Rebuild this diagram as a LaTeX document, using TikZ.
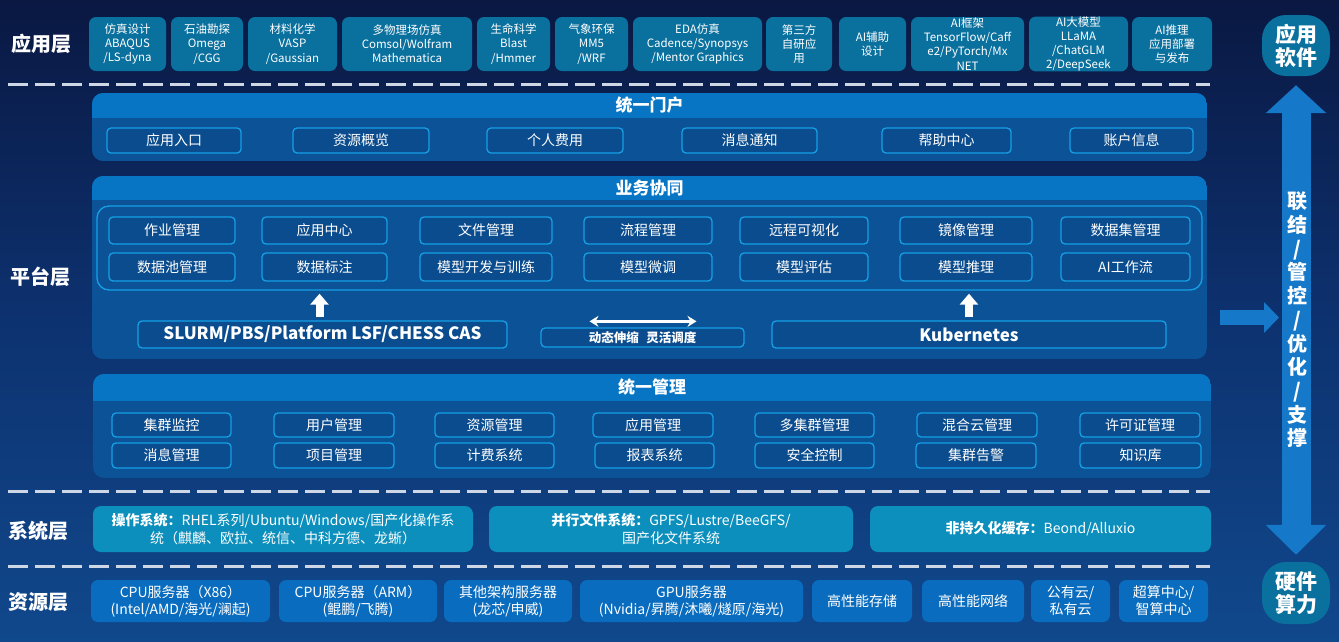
\documentclass[tikz,border=0pt]{standalone}
\usepackage{fontspec}
\setmainfont{Noto Sans CJK SC}
\usetikzlibrary{arrows.meta,calc}
\definecolor{bgtop}{RGB}{10,24,66}
\definecolor{bgmid}{RGB}{13,50,112}
\definecolor{bgbot}{RGB}{16,72,140}
\definecolor{appcol}{RGB}{10,112,158}
\definecolor{hdr}{RGB}{8,117,196}
\definecolor{pbody}{RGB}{11,82,150}
\definecolor{itemln}{RGB}{22,160,230}
\definecolor{itemfill}{RGB}{10,76,142}
\definecolor{syscol}{RGB}{12,143,188}
\definecolor{rescol}{RGB}{10,108,190}
\definecolor{arrowblue}{RGB}{22,120,200}
\definecolor{dashc}{RGB}{205,215,230}
\tikzset{
  base/.style={inner sep=0pt, align=center, text=white},
  appbox/.style={base, fill=appcol, rounded corners=7pt, font=\fontsize{11.5}{14.2}\selectfont},
  pill/.style={base, fill=appcol, rounded corners=24pt, font=\bfseries\fontsize{21}{23}\selectfont},
  item/.style={base, draw=itemln, line width=1.3pt, fill=itemfill, rounded corners=4pt, font=\fontsize{14}{16}\selectfont},
  frame/.style={base, draw=itemln, line width=1.3pt, rounded corners=12pt},
  bigitem/.style={item, font=\bfseries\fontsize{17}{20}\selectfont},
  smallitem/.style={item, font=\bfseries\fontsize{12.5}{14}\selectfont},
  sysbox/.style={base, fill=syscol, rounded corners=8pt, font=\fontsize{14}{17.5}\selectfont},
  resbox/.style={base, fill=rescol, rounded corners=7pt, font=\fontsize{14}{17}\selectfont},
  paneltitle/.style={base, font=\bfseries\fontsize{17}{20}\selectfont},
  layerlabel/.style={base, font=\bfseries\fontsize{20}{22}\selectfont},
  dashline/.style={draw=dashc, line width=3pt, dash pattern=on 20pt off 7pt},
  panelnode/.style={inner sep=0pt},
}
\newcommand\mybox[7]{\node[#1,minimum width={#5-#3},minimum height={#6-#4}] (#2) at ({(#3+#5)/2},{(#4+#6)/2}) {#7};}
\newcommand\mypanel[7]{%
  \begin{scope}
    \clip[rounded corners=11pt] (#2,#3) rectangle (#4,#5);
    \fill[pbody] (#2,#3) rectangle (#4,#5);
    \fill[hdr] (#2,#3) rectangle (#4,#6);
  \end{scope}
  \node[panelnode,minimum width={#4-#2},minimum height={#5-#3}] (#1) at ({(#2+#4)/2},{(#3+#5)/2}) {};
  \node[paneltitle] (#1 title) at ({(#2+#4)/2},{(#3+#6)/2}) {#7};
}
\begin{document}
\begin{tikzpicture}[x=1pt,y=-1pt]
\shade[top color=bgtop, bottom color=bgbot, middle color=bgmid] (0,0) rectangle (1339,641);
\path[use as bounding box] (0,0) rectangle (1339,641);

% layer labels
\node[layerlabel] (lapp) at (41,44) {应用层};
\node[layerlabel] (lplat) at (40,277) {平台层};
\node[layerlabel] (lsys) at (39,531) {系统层};
\node[layerlabel] (lres) at (39,602) {资源层};

% dashed separators
\draw[dashline] (8,84) -- (1210,84);
\draw[dashline] (8,491) -- (1210,491);
\draw[dashline] (8,566) -- (1210,566);

% application boxes
\mybox{appbox}{a1}{89}{17}{166}{71}{仿真设计\\ABAQUS\\/LS-dyna}
\mybox{appbox}{a2}{171}{17}{243}{71}{石油勘探\\Omega\\/CGG}
\mybox{appbox}{a3}{248}{17}{337}{71}{材料化学\\VASP\\/Gaussian}
\mybox{appbox}{a4}{342}{17}{472}{71}{多物理场仿真\\Comsol/Wolfram\\Mathematica}
\mybox{appbox}{a5}{477}{17}{550}{71}{生命科学\\Blast\\/Hmmer}
\mybox{appbox}{a6}{555}{17}{628}{71}{气象环保\\MM5\\/WRF}
\mybox{appbox}{a7}{633}{17}{762}{71}{EDA仿真\\Cadence/Synopsys\\/Mentor Graphics}
\mybox{appbox}{a8}{766}{17}{832}{71}{第三方\\自研应\\用}
\mybox{appbox}{a9}{839}{17}{906}{71}{AI辅助\\设计}
\mybox{appbox}{a10}{911}{17}{1024}{71}{AI框架\\TensorFlow/Caff\\e2/PyTorch/Mx\\NET}
\mybox{appbox}{a11}{1029}{17}{1128}{71}{AI大模型\\LLaMA\\/ChatGLM\\2/DeepSeek}
\mybox{appbox}{a12}{1132}{17}{1212}{71}{AI推理\\应用部署\\与发布}

% right side pills
\mybox{pill}{appsw}{1262}{15}{1330}{76}{应用\\软件}
\mybox{pill}{hwsw}{1262}{562}{1330}{624}{硬件\\算力}

% unified portal
\mypanel{portal}{92}{93}{1207}{161}{118}{统一门户}
\mybox{item}{p1}{107}{128}{241}{153}{应用入口}
\mybox{item}{p2}{293}{128}{429}{153}{资源概览}
\mybox{item}{p3}{487}{128}{623}{153}{个人费用}
\mybox{item}{p4}{682}{128}{817}{153}{消息通知}
\mybox{item}{p5}{882}{128}{1011}{153}{帮助中心}
\mybox{item}{p6}{1070}{128}{1193}{153}{账户信息}

% business collaboration
\mypanel{biz}{92}{176}{1207}{359}{200}{业务协同}
\mybox{frame}{frame}{97}{206}{1202}{290}{}
\mybox{item}{b1}{109}{217}{235}{244}{作业管理}
\mybox{item}{b2}{262}{217}{387}{244}{应用中心}
\mybox{item}{b3}{420}{217}{552}{244}{文件管理}
\mybox{item}{b4}{584}{217}{712}{244}{流程管理}
\mybox{item}{b5}{740}{217}{868}{244}{远程可视化}
\mybox{item}{b6}{900}{217}{1032}{244}{镜像管理}
\mybox{item}{b7}{1061}{217}{1190}{244}{数据集管理}
\mybox{item}{b8}{109}{253}{235}{281}{数据池管理}
\mybox{item}{b9}{262}{253}{387}{281}{数据标注}
\mybox{item}{b10}{420}{253}{552}{281}{模型开发与训练}
\mybox{item}{b11}{584}{253}{712}{281}{模型微调}
\mybox{item}{b12}{740}{253}{868}{281}{模型评估}
\mybox{item}{b13}{900}{253}{1032}{281}{模型推理}
\mybox{item}{b14}{1061}{253}{1190}{281}{AI工作流}
\mybox{bigitem}{slurm}{138}{321}{507}{348}{SLURM/PBS/Platform LSF/CHESS CAS}
\mybox{smallitem}{dyn}{541}{328}{744}{347}{动态伸缩\hspace{0.6em}灵活调度}
\mybox{bigitem}{k8s}{772}{321}{1166}{348}{Kubernetes}
\draw[white, line width=8pt, -{Triangle[width=18pt,length=11pt]}, shorten <=3pt, shorten >=3pt]
  ($(slurm.north)+(-3,0)$) -- ($(slurm.north |- frame.south)+(-3,0)$);
\draw[white, line width=8pt, -{Triangle[width=18pt,length=11pt]}, shorten <=3pt, shorten >=3pt]
  (k8s.north) -- (k8s.north |- frame.south);
\coordinate (dl) at ($(dyn.north)+(-53,-6)$);
\coordinate (dr) at ($(dyn.north)+(54,-6)$);
\draw[white, line width=3pt, {Stealth[length=9pt,width=11pt]}-{Stealth[length=9pt,width=11pt]}] (dl) -- (dr);

% unified management
\mypanel{mgmt}{93}{374}{1211}{478}{401}{统一管理}
\mybox{item}{m1}{112}{413}{231}{437}{集群监控}
\mybox{item}{m2}{274}{413}{394}{437}{用户管理}
\mybox{item}{m3}{435}{413}{554}{437}{资源管理}
\mybox{item}{m4}{593}{413}{713}{437}{应用管理}
\mybox{item}{m5}{755}{413}{874}{437}{多集群管理}
\mybox{item}{m6}{917}{413}{1037}{437}{混合云管理}
\mybox{item}{m7}{1080}{413}{1200}{437}{许可证管理}
\mybox{item}{m8}{112}{443}{231}{468}{消息管理}
\mybox{item}{m9}{274}{443}{394}{468}{项目管理}
\mybox{item}{m10}{435}{443}{554}{468}{计费系统}
\mybox{item}{m11}{595}{443}{714}{468}{报表系统}
\mybox{item}{m12}{755}{443}{874}{468}{安全控制}
\mybox{item}{m13}{916}{443}{1036}{468}{集群告警}
\mybox{item}{m14}{1080}{443}{1201}{468}{知识库}

% system layer
\mybox{sysbox}{s1}{93}{506}{473}{552}{\textbf{操作系统：}RHEL系列/Ubuntu/Windows/国产化操作系\\统（麒麟、欧拉、统信、中科方德、龙蜥）}
\mybox{sysbox}{s2}{489}{506}{853}{552}{\textbf{并行文件系统：}GPFS/Lustre/BeeGFS/\\国产化文件系统}
\mybox{sysbox}{s3}{870}{506}{1211}{552}{\textbf{非持久化缓存：}Beond/Alluxio}

% resource layer
\mybox{resbox}{r1}{91}{580}{270}{622}{CPU服务器（X86）\\(Intel/AMD/海光/澜起)}
\mybox{resbox}{r2}{279}{580}{437}{622}{CPU服务器（ARM）\\(鲲鹏/飞腾)}
\mybox{resbox}{r3}{444}{580}{572}{622}{其他架构服务器\\(龙芯/申威)}
\mybox{resbox}{r4}{580}{580}{803}{622}{GPU服务器\\(Nvidia/昇腾/沐曦/燧原/海光)}
\mybox{resbox}{r5}{812}{580}{912}{622}{高性能存储}
\mybox{resbox}{r6}{922}{580}{1024}{622}{高性能网络}
\mybox{resbox}{r7}{1031}{580}{1110}{622}{公有云/\\私有云}
\mybox{resbox}{r8}{1119}{580}{1208}{622}{超算中心/\\智算中心}

% right arrows
\draw[arrowblue, line width=29pt, {Triangle[width=59pt,length=28pt]}-{Triangle[width=59pt,length=30pt]}, shorten <=9pt, shorten >=7pt]
  (appsw.south) -- (hwsw.north);
\coordinate (hs) at (1220,317.5);
\coordinate (he) at (1279,317.5);
\draw[arrowblue, line width=15pt, -{Triangle[width=30pt,length=15pt]}] (hs) -- (he);
\node[base, font=\bfseries\fontsize{20}{23.7}\selectfont] (vtext) at (1297,320) {联\\结\\/\\管\\控\\/\\优\\化\\/\\支\\撑};
\end{tikzpicture}
\end{document}
